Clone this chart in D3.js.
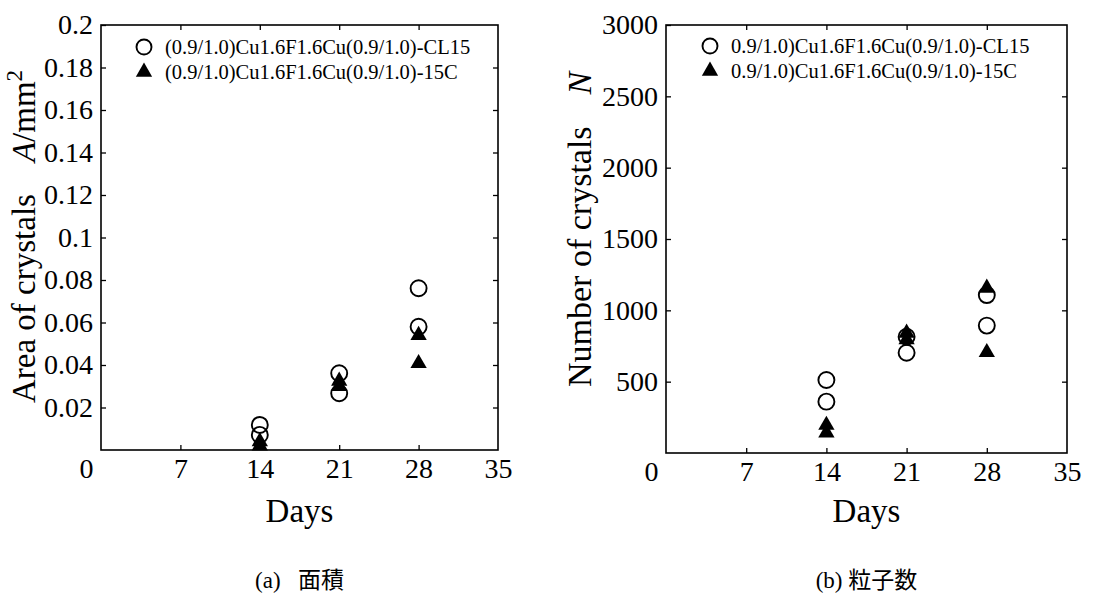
<!DOCTYPE html>
<html lang="ja">
  <head>
    <meta charset="utf-8">
    <title>Crystals vs days</title>
    <script src="https://d3js.org/d3.v7.min.js"></script>
    <style>
      body { margin: 0; background: #fff; }
      svg text { font-family: "Liberation Serif", "Times New Roman", "Noto Sans CJK JP", serif; fill: #000; }
    </style>
  </head>
  <body>
    <div id="chart"></div>
    <script type="text/javascript">
      "use strict"
      // dados: dois valores por dia
      var dias = [14, 14, 21, 21, 28, 28]
      var areaCL15 = [0.0118, 0.0071, 0.0361, 0.0267, 0.0761, 0.0580]
      var area15C = [0.0040, 0.0020, 0.0325, 0.0300, 0.0540, 0.0408]
      var numCL15 = [512, 360, 815, 703, 1107, 893]
      var num15C = [196, 142, 841, 795, 1157, 705]
      var xTicks = [0, 7, 14, 21, 28, 35]
      var areaTicks = [0.02, 0.04, 0.06, 0.08, 0.1, 0.12, 0.14, 0.16, 0.18, 0.2]
      var numTicks = [500, 1000, 1500, 2000, 2500, 3000]
      var legendA = ['(0.9/1.0)Cu1.6F1.6Cu(0.9/1.0)-CL15', '(0.9/1.0)Cu1.6F1.6Cu(0.9/1.0)-15C']
      var legendB = ['0.9/1.0)Cu1.6F1.6Cu(0.9/1.0)-CL15', '0.9/1.0)Cu1.6F1.6Cu(0.9/1.0)-15C']

      var svg = d3.select('#chart').append('svg')
        .attr('width', 1118)
        .attr('height', 599)

      var tri = d3.symbol().type(d3.symbolTriangle).size(115)

      function painel(p) {
        var g = svg.append('g').attr('transform', 'translate(' + p.left + ',' + p.top + ')')
        var w = p.width, h = p.height
        var x = d3.scaleLinear().domain([0, 35]).range([0, w])
        var y = d3.scaleLinear().domain(p.yDomain).range([h, 0])

        // eixos com ticks para dentro
        var ax = g.append('g').attr('transform', 'translate(0,' + h + ')')
          .call(d3.axisBottom(x).tickValues(xTicks).tickSizeInner(-5).tickSizeOuter(0).tickPadding(8))
        ax.selectAll('.tick text').filter(d => d === 0).attr('x', -15)
        ax.selectAll('.tick line').filter(d => d === 0 || d === 35).remove()
        g.append('g')
          .call(d3.axisLeft(y).tickValues(p.yTicks).tickFormat(p.fmt).tickSizeInner(-5).tickSizeOuter(0).tickPadding(8))
        g.append('g')
          .call(d3.axisTop(x).tickValues(xTicks.slice(1, -1)).tickFormat('').tickSizeInner(-5).tickSizeOuter(0))
        g.append('g').attr('transform', 'translate(' + w + ',0)')
          .call(d3.axisRight(y).tickValues(p.yTicks.slice(0, -1)).tickFormat('').tickSizeInner(-5).tickSizeOuter(0))
        g.selectAll('.domain').remove()
        g.selectAll('g').attr('font-family', null).attr('font-size', null)
        g.selectAll('.tick line').attr('stroke', '#000').attr('stroke-width', 1.3)
        g.selectAll('.tick text').style('font-size', '28px').attr('fill', '#000')
        g.append('rect').attr('width', w).attr('height', h)
          .attr('fill', 'none').attr('stroke', '#000').attr('stroke-width', 1.6)

        // marcas
        g.selectAll('circle.cl').data(p.s1).enter().append('circle')
          .attr('cx', (d, i) => x(dias[i])).attr('cy', d => y(d)).attr('r', 8)
          .attr('fill', 'none').attr('stroke', '#000').attr('stroke-width', 1.9)
        g.selectAll('path.c').data(p.s2).enter().append('path')
          .attr('d', tri).attr('fill', '#000')
          .attr('transform', (d, i) => 'translate(' + x(dias[i]) + ',' + y(d) + ')')

        // legenda
        var lg = g.append('g').attr('transform', 'translate(' + p.legX + ',' + p.legY + ')')
        lg.append('circle').attr('cx', 0).attr('cy', 0).attr('r', 7.5)
          .attr('fill', 'none').attr('stroke', '#000').attr('stroke-width', 1.9)
        lg.append('path').attr('d', tri).attr('fill', '#000').attr('transform', 'translate(0,25)')
        lg.selectAll('text').data(p.legenda).enter().append('text')
          .attr('x', 21).attr('y', (d, i) => i * 25 + 7)
          .style('font-size', '20.5px').text(d => d)

        // titulos
        g.append('text').attr('x', w / 2).attr('y', 522 - p.top)
          .attr('text-anchor', 'middle').style('font-size', '33px').text('Days')
        g.append('text').attr('x', w / 2).attr('y', 588 - p.top)
          .attr('text-anchor', 'middle').style('font-size', '23px').text(p.caption)

        var yl = svg.append('text')
          .attr('transform', 'translate(' + p.ylX + ',' + p.ylY + ') rotate(-90)')
          .style('font-size', p.ylSize + 'px')
        yl.append('tspan').text(p.ylabel)
        yl.append('tspan').attr('dx', p.gap).style('font-style', 'italic').text(p.sym)
        if (p.unit) {
          yl.append('tspan').text('/mm')
          yl.append('tspan').attr('dy', -13).style('font-size', '23px').text('2')
        }
      }

      painel({
        left: 101, top: 25, width: 397, height: 425,
        yDomain: [0, 0.2], yTicks: areaTicks, fmt: d3.format('~g'),
        s1: areaCL15, s2: area15C, legenda: legendA, legX: 43, legY: 22,
        caption: '(a)\u00a0\u00a0 面積',
        ylabel: 'Area of crystals', sym: 'A', unit: true, gap: 32, ylX: 35, ylY: 403, ylSize: 33
      })
      painel({
        left: 666, top: 25, width: 401, height: 428,
        yDomain: [0, 3000], yTicks: numTicks, fmt: d3.format('d'),
        s1: numCL15, s2: num15C, legenda: legendB, legX: 44, legY: 21,
        caption: '(b) 粒子数',
        ylabel: 'Number of crystals', sym: 'N', unit: false, gap: 32, ylX: 591, ylY: 387, ylSize: 34
      })
    </script>
  </body>
</html>
